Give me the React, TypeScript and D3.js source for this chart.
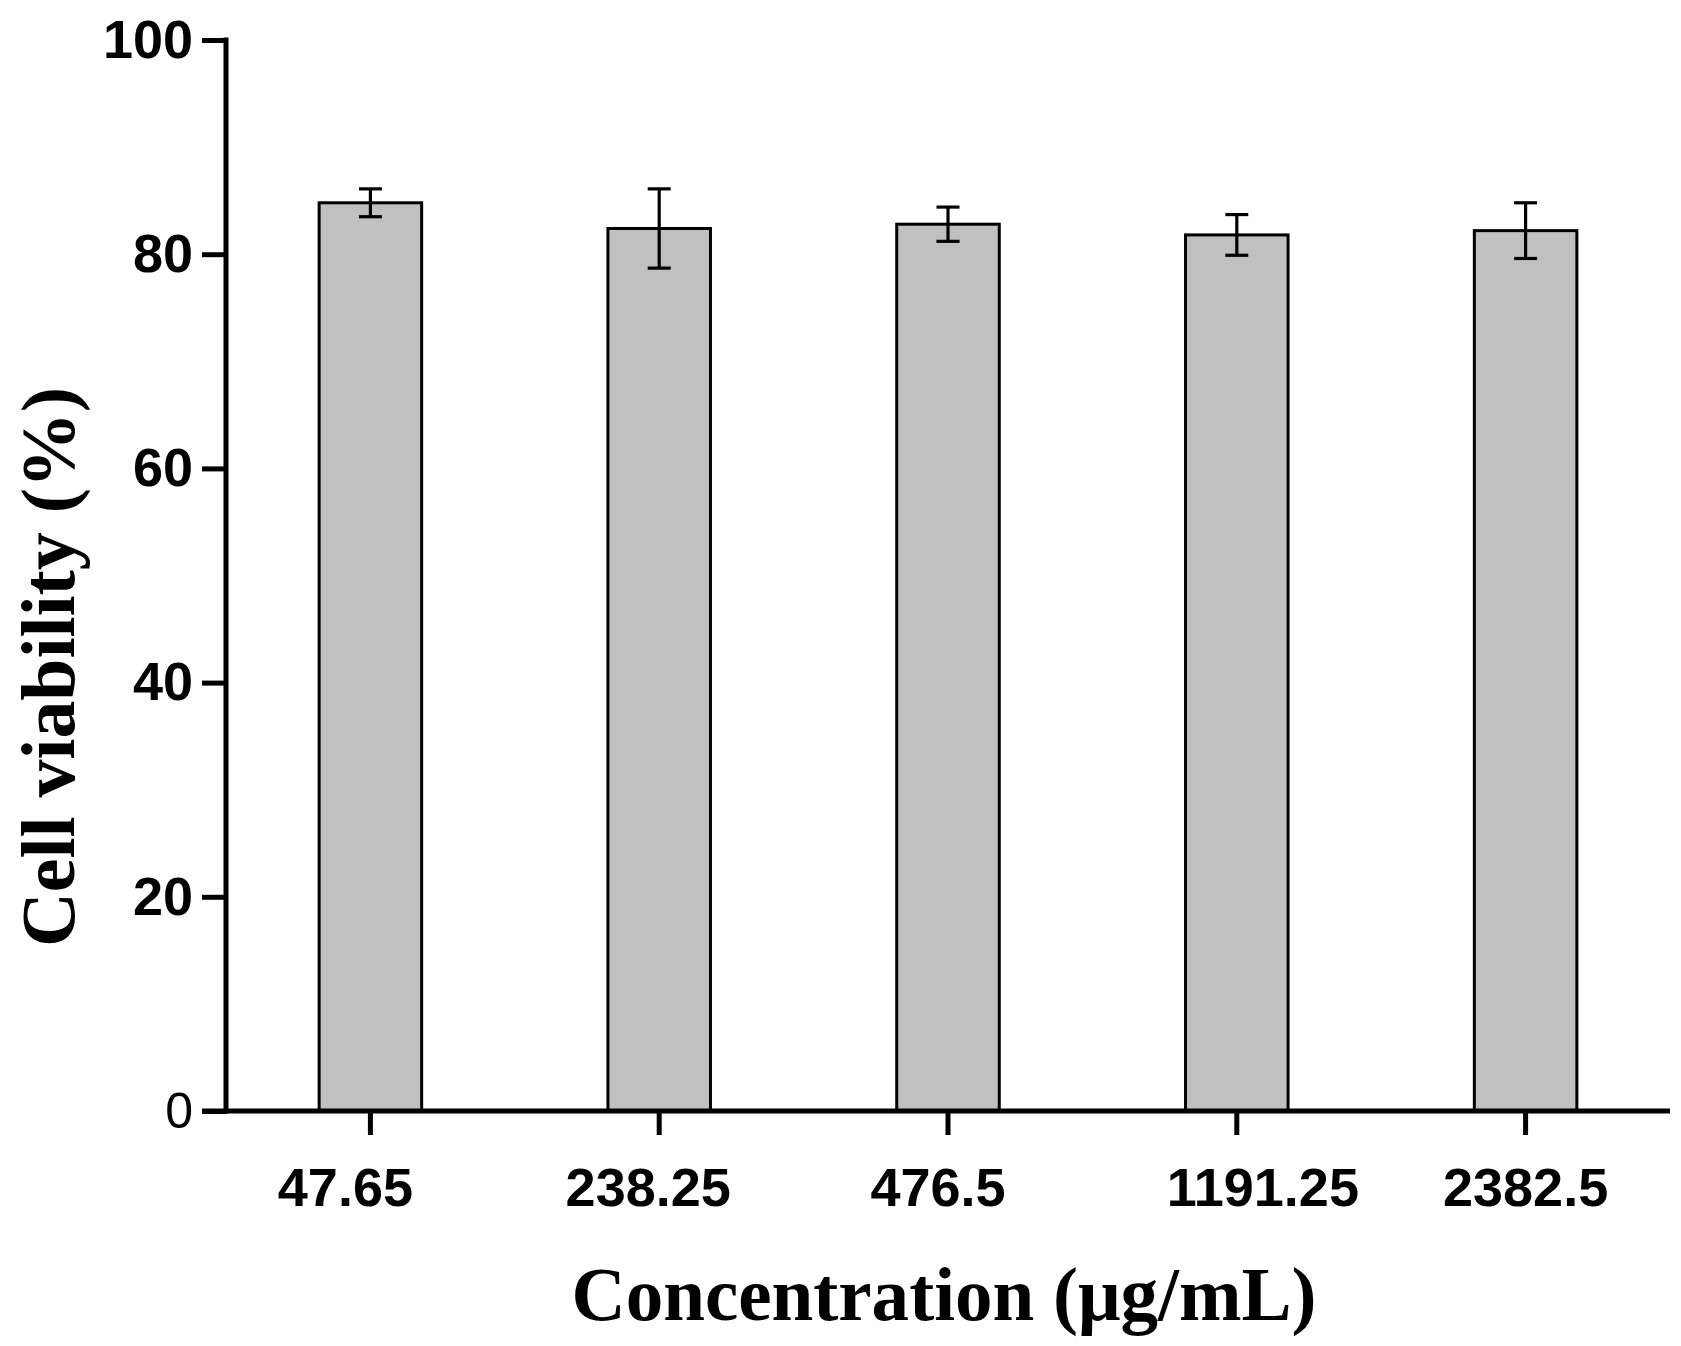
import React, { useEffect, useRef } from 'react';
import * as d3 from 'd3';

const concentrations = ['47.65', '238.25', '476.5', '1191.25', '2382.5'];
const viability = [84.8, 82.4, 82.8, 81.8, 82.2];
const viabilityErr = [1.3, 3.7, 1.6, 1.9, 2.6];
const yTicks = [0, 20, 40, 60, 80, 100];

// small horizontal nudges of the x tick labels, as placed in the original
const labelNudge = [-25, -11, -10, 26, 0];

const WIDTH = 1681;
const HEIGHT = 1346;

export default function App() {
  const svgRef = useRef<SVGSVGElement>(null);

  useEffect(() => {
    if (!svgRef.current) return;
    const svg = d3.select(svgRef.current);
    svg.selectAll('*').remove();

    const left = 226;
    const right = 1670;
    const top = 40;
    const bottom = 1111;

    const data = concentrations.map((c, i) => ({
      category: c,
      value: viability[i],
      err: viabilityErr[i],
    }));

    const xScale = d3
      .scaleBand()
      .domain(concentrations)
      .range([left, right])
      .paddingInner(0.645)
      .paddingOuter(0.3225);

    const yScale = d3.scaleLinear().domain([0, 100]).range([bottom, top]);

    svg.append('rect').attr('width', WIDTH).attr('height', HEIGHT).attr('fill', '#ffffff');

    // Bars
    svg
      .selectAll('.bar')
      .data(data)
      .enter()
      .append('rect')
      .attr('class', 'bar')
      .attr('x', (d) => xScale(d.category)!)
      .attr('y', (d) => yScale(d.value))
      .attr('width', xScale.bandwidth())
      .attr('height', (d) => bottom - yScale(d.value))
      .attr('fill', '#c0c0c0')
      .attr('stroke', '#000')
      .attr('stroke-width', 3);

    // Error bars
    const capHalf = 11.5;
    const eb = svg.append('g').attr('stroke', '#000').attr('stroke-width', 3.2);
    data.forEach((d) => {
      const cx = xScale(d.category)! + xScale.bandwidth() / 2;
      const y1 = yScale(d.value + d.err);
      const y2 = yScale(d.value - d.err);
      eb.append('line').attr('x1', cx).attr('x2', cx).attr('y1', y1).attr('y2', y2);
      eb.append('line').attr('x1', cx - capHalf).attr('x2', cx + capHalf).attr('y1', y1).attr('y2', y1);
      eb.append('line').attr('x1', cx - capHalf).attr('x2', cx + capHalf).attr('y1', y2).attr('y2', y2);
    });

    // Y axis
    const yAxis = svg
      .append('g')
      .attr('transform', `translate(${left}, 0)`)
      .call(
        d3
          .axisLeft(yScale)
          .tickValues(yTicks)
          .tickSize(24)
          .tickSizeOuter(0)
          .tickPadding(9)
      );
    yAxis.select('.domain').remove();
    yAxis.selectAll('.tick line').attr('stroke', '#000').attr('stroke-width', 5);
    yAxis
      .selectAll('.tick text')
      .attr('fill', '#000')
      .attr('font-family', '"Liberation Sans", Arial, sans-serif')
      .attr('font-weight', (d) => ((d as number) === 0 ? 'normal' : 'bold'))
      .attr('font-size', (d) => ((d as number) === 0 ? '50px' : '54px'));

    // X axis
    const xAxis = svg
      .append('g')
      .attr('transform', `translate(0, ${bottom})`)
      .call(d3.axisBottom(xScale).tickSize(24).tickSizeOuter(0).tickPadding(33));
    xAxis.select('.domain').remove();
    xAxis.selectAll('.tick line').attr('stroke', '#000').attr('stroke-width', 5);
    xAxis
      .selectAll('.tick text')
      .attr('fill', '#000')
      .attr('font-family', '"Liberation Sans", Arial, sans-serif')
      .attr('font-weight', 'bold')
      .attr('font-size', '54px')
      .attr('dx', (_d, i) => labelNudge[i]);

    // Axis lines
    svg
      .append('line')
      .attr('x1', left)
      .attr('x2', left)
      .attr('y1', top - 2.5)
      .attr('y2', bottom + 2.5)
      .attr('stroke', '#000')
      .attr('stroke-width', 5);
    svg
      .append('line')
      .attr('x1', left - 24)
      .attr('x2', right)
      .attr('y1', bottom)
      .attr('y2', bottom)
      .attr('stroke', '#000')
      .attr('stroke-width', 5);

    // Axis titles
    svg
      .append('text')
      .attr('x', 944)
      .attr('y', 1320)
      .attr('text-anchor', 'middle')
      .attr('font-family', '"Liberation Serif", "Times New Roman", serif')
      .attr('font-weight', 'bold')
      .attr('font-size', '76px')
      .attr('textLength', 745)
      .attr('lengthAdjust', 'spacingAndGlyphs')
      .attr('fill', '#000')
      .text('Concentration (μg/mL)');

    svg
      .append('text')
      .attr('transform', `translate(74, 667) rotate(-90)`)
      .attr('text-anchor', 'middle')
      .attr('font-family', '"Liberation Serif", "Times New Roman", serif')
      .attr('font-weight', 'bold')
      .attr('font-size', '76px')
      .attr('textLength', 560)
      .attr('lengthAdjust', 'spacingAndGlyphs')
      .attr('fill', '#000')
      .text('Cell viability (%)');
  }, []);

  return (
    <svg
      ref={svgRef}
      width={WIDTH}
      height={HEIGHT}
      style={{ position: 'absolute', left: 0, top: 0, display: 'block' }}
    ></svg>
  );
}
